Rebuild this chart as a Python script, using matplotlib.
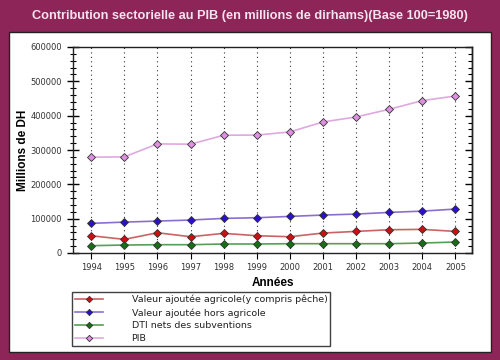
import matplotlib
matplotlib.use("Agg")
import matplotlib.pyplot as plt
import matplotlib.patches as pat
from matplotlib.ticker import MultipleLocator

years = [1994, 1995, 1996, 1997, 1998, 1999, 2000, 2001, 2002, 2003, 2004, 2005]
agricole = [50300, 39700, 59000, 47400, 57200, 50300, 47400, 58100, 62900, 67800, 68800, 62900]
hors_agricole = [86300, 90000, 93000, 96000, 100800, 102700, 106600, 110500, 113400, 118200, 122000, 128000]
dti = [21300, 23200, 24200, 24200, 26200, 26200, 27100, 27100, 27100, 27100, 29000, 32000]
pib = [279000, 280000, 317700, 317000, 343000, 343500, 352600, 381700, 396200, 418600, 443900, 457300]

labels = ["Valeur ajoutée agricole(y compris pêche)",
          "Valeur ajoutée hors agricole",
          "DTI nets des subventions",
          "PIB"]
series = [agricole, hors_agricole, dti, pib]
lineColors = ["#c86464", "#8a6fd0", "#55a055", "#e0a8e0"]
markerColors = ["#cc1010", "#2a10cc", "#157015", "#e090e0"]

maroon = "#8e2559"

fig = plt.figure(figsize=(5, 3.6), dpi=100, facecolor=maroon)
# white panel behind everything
fig.patches.append(pat.Rectangle((9 / 500, 1 - 352 / 360), 482 / 500, 320 / 360,
                                 transform=fig.transFigure, facecolor="white",
                                 edgecolor="#222222", linewidth=1.0, zorder=-5))
fig.text(0.5, 1 - 16 / 360, "Contribution sectorielle au PIB (en millions de dirhams)(Base 100=1980)",
         ha="center", va="center", color="#f4e4ee", fontsize=9.2, fontweight="bold",
         family="Liberation Sans")

ax = fig.add_axes([73 / 500, 1 - 253 / 360, 399 / 500, 206 / 360])
ax.set_facecolor("white")

handles = []
for vals, lc, mc, lab in zip(series, lineColors, markerColors, labels):
    h, = ax.plot(years, vals, color=lc, linewidth=1.2, marker="D", markersize=4.0,
                 markerfacecolor=mc, markeredgecolor="#333333", markeredgewidth=0.6,
                 label=lab, zorder=3)
    handles.append(h)

ax.set_xlim(1993.45, 2005.5)
ax.set_ylim(0, 600000)
ax.set_xticks(years)
ax.set_xticklabels([str(y) for y in years])
ax.yaxis.set_major_locator(MultipleLocator(100000))
ax.yaxis.set_minor_locator(MultipleLocator(20000))
ax.grid(axis="x", linestyle=(0, (1, 3)), color="#333333", linewidth=0.8)

for s in ax.spines.values():
    s.set_linewidth(1.0)
    s.set_color("#222222")

ax.tick_params(axis="y", which="major", direction="inout", length=8, width=1,
               labelsize=6, labelcolor="#333333", pad=4)
ax.tick_params(axis="y", which="minor", direction="inout", length=5, width=0.8)
ax.tick_params(axis="x", which="major", direction="out", length=4, width=0.8,
               labelsize=6, labelcolor="#333333", pad=3)

# right side ticks point inward only
right = ax.secondary_yaxis("right")
right.yaxis.set_major_locator(MultipleLocator(100000))
right.yaxis.set_minor_locator(MultipleLocator(20000))
right.tick_params(which="major", direction="in", length=5, width=1, labelright=False)
right.tick_params(which="minor", direction="in", length=3, width=0.8)
right.spines["right"].set_linewidth(1.0)

ax.set_ylabel("Millions de DH", fontsize=8.5, fontweight="bold", family="Liberation Sans",
              labelpad=1)
ax.set_xlabel("Années", fontsize=8.5, fontweight="bold", family="Liberation Sans",
              labelpad=4)

leg = fig.legend(handles=handles, loc="upper left",
                 bbox_to_anchor=(72 / 500, 1 - 292 / 360), fontsize=6.8,
                 frameon=True, fancybox=False, borderpad=0.3, labelspacing=0.4,
                 handlelength=3, handletextpad=3.0, borderaxespad=0, markerscale=0.8)
leg.get_frame().set_edgecolor("#111111")
leg.get_frame().set_linewidth(1.0)
for t in leg.get_texts():
    t.set_color("#222222")

fig.savefig("out.png", dpi=100, facecolor=maroon)
